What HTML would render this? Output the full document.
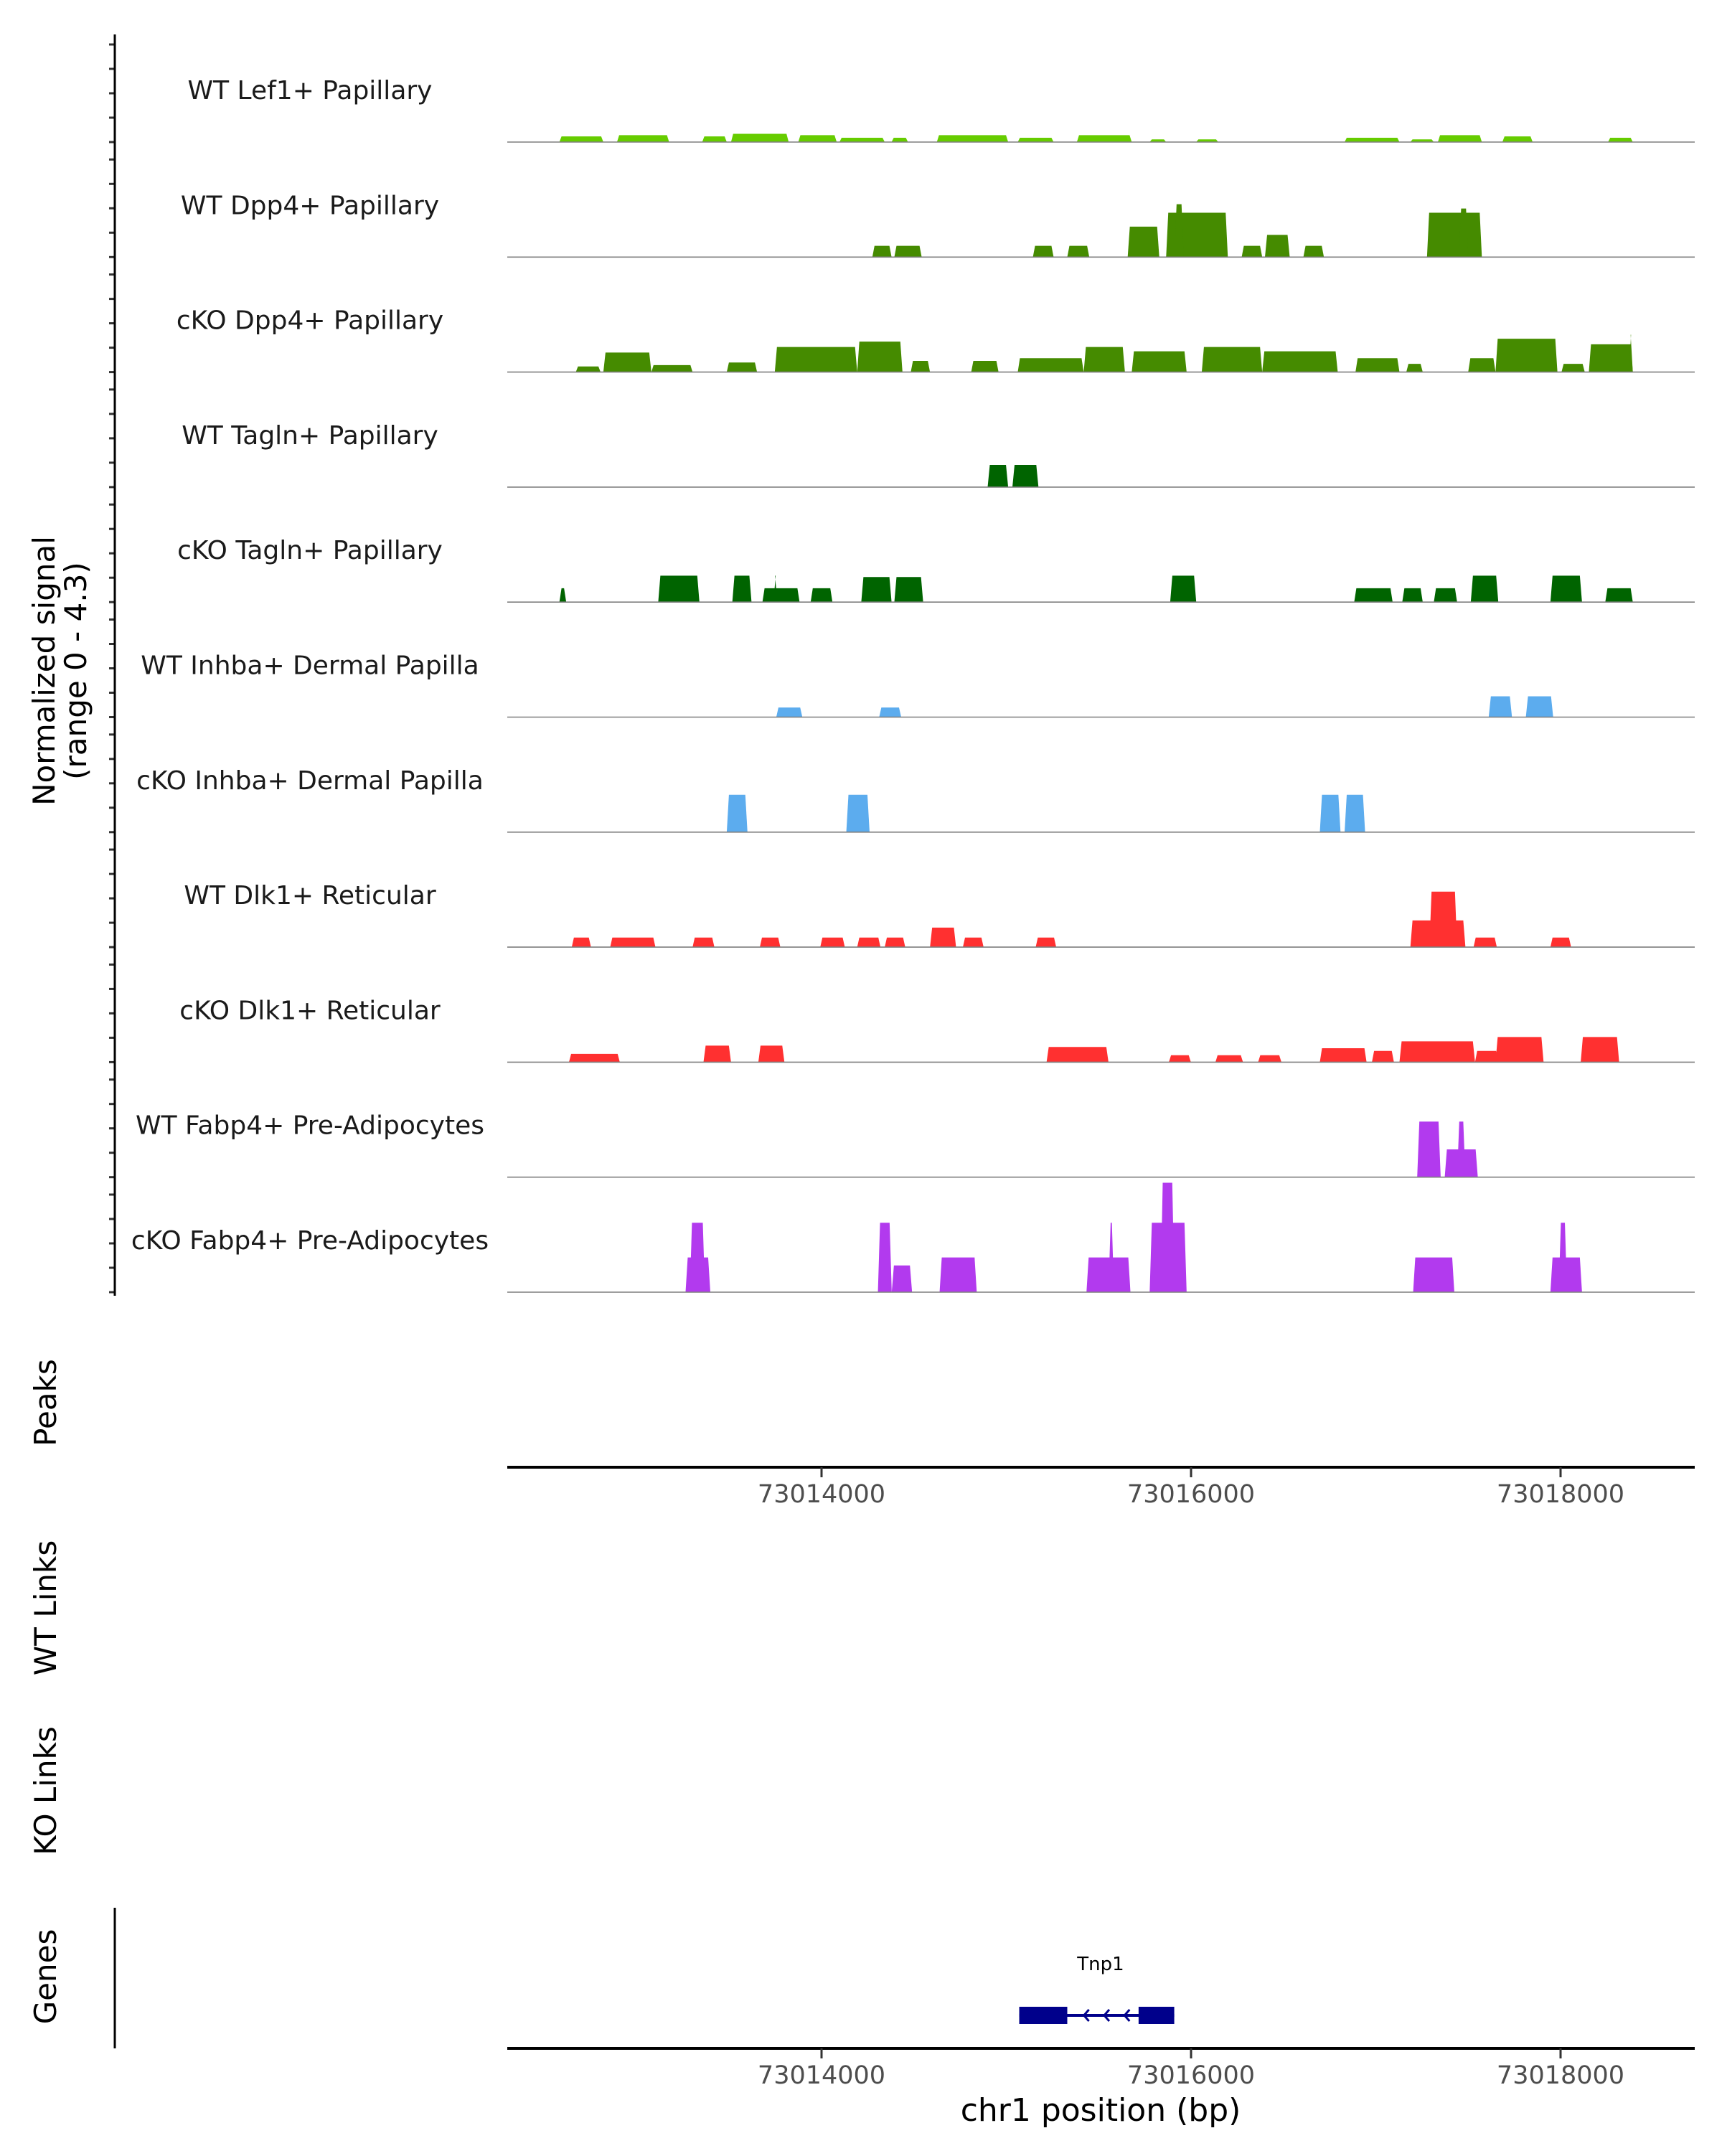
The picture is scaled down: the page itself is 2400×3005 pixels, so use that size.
<!DOCTYPE html>
<html><head><meta charset="utf-8"><style>
html,body{margin:0;padding:0;background:#fff}
svg text{font-family:"DejaVu Sans","Liberation Sans",sans-serif}
</style></head><body>
<svg id="chart" width="2400" height="3000" viewBox="0 0 2400 3000" xmlns="http://www.w3.org/2000/svg">
<g id="tracks"></g>
<g id="axes"></g>
</svg>
<script>
const trackNames = ["WT Lef1+ Papillary","WT Dpp4+ Papillary","cKO Dpp4+ Papillary","WT Tagln+ Papillary","cKO Tagln+ Papillary","WT Inhba+ Dermal Papilla","cKO Inhba+ Dermal Papilla","WT Dlk1+ Reticular","cKO Dlk1+ Reticular","WT Fabp4+ Pre-Adipocytes","cKO Fabp4+ Pre-Adipocytes"];
const trackColors = ["#66CC00","#458B00","#458B00","#006400","#006400","#5CACEE","#5CACEE","#FF3030","#FF3030","#B23AEE","#B23AEE"];
const yMax = 4.3;
const xTicks = [73014000,73016000,73018000];
// segments: [start bp, end bp, signal]
const lef1WT = [[73012581,73012819,0.21],[73012893,73013175,0.26],[73013354,73013487,0.21],[73013510,73013822,0.31],[73013874,73014082,0.26],[73014097,73014342,0.16],[73014379,73014468,0.16],[73014624,73015010,0.26],[73015062,73015256,0.16],[73015382,73015679,0.26],[73015776,73015865,0.1],[73016028,73016147,0.1],[73016831,73017128,0.16],[73017187,73017314,0.1],[73017336,73017574,0.26],[73017685,73017849,0.21],[73018257,73018391,0.16]];
const dpp4WT = [[73014275,73014379,0.42],[73014394,73014542,0.42],[73015144,73015256,0.42],[73015330,73015449,0.42],[73015657,73015828,1.14],[73015865,73016199,1.66],[73015910,73015960,1.98],[73016274,73016385,0.42],[73016400,73016534,0.83],[73016608,73016719,0.42],[73017277,73017574,1.66],[73017450,73017500,1.82]];
const dpp4KO = [[73012670,73012804,0.21],[73012819,73013079,0.73],[73013079,73013302,0.26],[73013487,73013651,0.36],[73013747,73014193,0.94],[73014193,73014438,1.14],[73014483,73014587,0.42],[73014810,73014958,0.42],[73015062,73015419,0.52],[73015419,73015642,0.94],[73015679,73015976,0.78],[73016058,73016385,0.94],[73016385,73016794,0.78],[73016890,73017128,0.52],[73017165,73017254,0.31],[73017500,73017648,0.52],[73017648,73017983,1.25],[73018005,73018131,0.31],[73018153,73018391,1.04],[73018370,73018391,1.4]];
const taglnWT = [[73014899,73015010,0.83],[73015033,73015174,0.83]];
const taglnKO = [[73012581,73012618,0.52],[73013116,73013339,0.99],[73013517,73013621,0.99],[73013680,73013881,0.52],[73013740,73013760,0.99],[73013941,73014059,0.52],[73014215,73014379,0.94],[73014394,73014550,0.94],[73015887,73016028,0.99],[73016883,73017091,0.52],[73017143,73017254,0.52],[73017314,73017440,0.52],[73017514,73017663,0.99],[73017945,73018116,0.99],[73018242,73018391,0.52]];
const inhbaWT = [[73013755,73013896,0.36],[73014312,73014431,0.36],[73017611,73017737,0.78],[73017812,73017960,0.78]];
const inhbaKO = [[73013487,73013599,1.4],[73014134,73014260,1.4],[73016697,73016809,1.4],[73016831,73016942,1.4]];
const dlk1WT = [[73012648,73012752,0.36],[73012856,73013101,0.36],[73013302,73013420,0.36],[73013666,73013777,0.36],[73013993,73014126,0.36],[73014193,73014319,0.36],[73014342,73014453,0.36],[73014587,73014728,0.73],[73014765,73014877,0.36],[73015159,73015270,0.36],[73017187,73017485,1.0],[73017290,73017440,2.08],[73017529,73017655,0.36],[73017945,73018057,0.36]];
const dlk1KO = [[73012633,73012908,0.31],[73013361,73013510,0.62],[73013658,73013799,0.62],[73015218,73015553,0.57],[73015880,73015999,0.26],[73016132,73016281,0.26],[73016363,73016489,0.26],[73016697,73016950,0.52],[73016979,73017098,0.42],[73017128,73017537,0.78],[73017537,73017663,0.42],[73017648,73017908,0.94],[73018109,73018317,0.94]];
const fabp4WT = [[73017224,73017351,2.08],[73017373,73017552,1.04],[73017440,73017485,2.08]];
const fabp4KO = [[73013264,73013398,1.3],[73013287,73013369,2.6],[73014305,73014380,2.6],[73014380,73014490,1.0],[73014639,73014840,1.3],[73015434,73015672,1.3],[73015553,73015583,2.6],[73015776,73015976,2.6],[73015835,73015910,4.1],[73017202,73017425,1.3],[73017945,73018116,1.3],[73017990,73018035,2.6]];
const trackData = [lef1WT,dpp4WT,dpp4KO,taglnWT,taglnKO,inhbaWT,inhbaKO,dlk1WT,dlk1KO,fabp4WT,fabp4KO];
const geneExons = [[73015070,73015330],[73015716,73015909]];
const geneSpan = [73015070,73015909];
const geneArrows = [73015420,73015530,73015640];

const NS="http://www.w3.org/2000/svg";
const X0=707,X1=2362,BP0=73012299,PXBP=0.2575;
const xs=bp=>X0+(bp-BP0)*PXBP;
const base0=198,trackH=160.3;
const ys=(i,v)=>base0+i*trackH - v/yMax*160;
function mk(tag,attrs,parent,text){const e=document.createElementNS(NS,tag);for(const k in attrs)e.setAttribute(k,attrs[k]);if(text!==undefined)e.textContent=text;parent.appendChild(e);return e;}
const tg=document.getElementById('tracks'), ag=document.getElementById('axes');
trackData.forEach((segs,i)=>{
  const g=mk('g',{},tg);
  
  
  const by=ys(i,0);
  segs.forEach(s=>{
    const a=xs(s[0]),b=xs(s[1]),t=ys(i,s[2]);
    const p=mk('polygon',{points:`${a},${by} ${a+3},${t} ${b-3},${t} ${b},${by}`,fill:trackColors[i]},g);
    
    
  });
  const l=mk('line',{x1:X0,x2:X1,y1:by,y2:by,stroke:'#7f7f7f','stroke-width':1.6},g);
  
  
  const lb=mk('text',{x:432,y:by-60,'text-anchor':'middle','font-size':36,fill:'#1a1a1a'},g,trackNames[i]);
  
  
  for(let k=0;k<5;k++){const ty=by-k*34;mk('line',{x1:152,x2:160,y1:ty,y2:ty,stroke:'#333','stroke-width':3},ag);}
});
mk('line',{x1:160,x2:160,y1:48,y2:1806,stroke:'#000','stroke-width':3},ag);
const yt=mk('text',{transform:'translate(76,935) rotate(-90)','text-anchor':'middle','font-size':42},ag);


mk('tspan',{x:0,dy:0},yt,'Normalized signal');
mk('tspan',{x:0,dy:44},yt,'(range 0 - 4.3)');
function rlabel(txt,y,name){const t=mk('text',{transform:`translate(78,${y}) rotate(-90)`,'text-anchor':'middle','font-size':42},ag,txt);}
rlabel('Peaks',1955,'peaks-label');rlabel('WT Links',2241,'wt-links-label');rlabel('KO Links',2496,'ko-links-label');rlabel('Genes',2755,'genes-label');
function xaxis(y,name){
  mk('line',{x1:X0,x2:X1,y1:y,y2:y,stroke:'#000','stroke-width':4},ag);
  xTicks.forEach(t=>{const x=xs(t);mk('line',{x1:x,x2:x,y1:y,y2:y+14,stroke:'#333','stroke-width':3},ag);
    const tl=mk('text',{x:x,y:y+49,'font-size':35,fill:'#4d4d4d','text-anchor':'middle'},ag,String(t));
    
    });
}
xaxis(2045,'peaks-x-axis');xaxis(2855,'genes-x-axis');
mk('line',{x1:160,x2:160,y1:2659,y2:2855,stroke:'#000','stroke-width':3},ag);
const xt=mk('text',{x:1534,y:2956,'text-anchor':'middle','font-size':44},ag,'chr1 position (bp)');


const gg=mk('g',{},ag);


const gy=2809;
mk('line',{x1:xs(geneSpan[0]),x2:xs(geneSpan[1]),y1:gy,y2:gy,stroke:'#00008B','stroke-width':4},gg);
geneExons.forEach(e=>mk('rect',{x:xs(e[0]),y:gy-12,width:xs(e[1])-xs(e[0]),height:24,fill:'#00008B'},gg));
geneArrows.forEach(a=>{const x=xs(a);mk('polyline',{points:`${x+7},${gy-8} ${x},${gy} ${x+7},${gy+8}`,fill:'none',stroke:'#00008B','stroke-width':3},gg);});
const gl=mk('text',{x:1534,y:2746,'text-anchor':'middle','font-size':26},gg,'Tnp1');


</script>
</body></html>
